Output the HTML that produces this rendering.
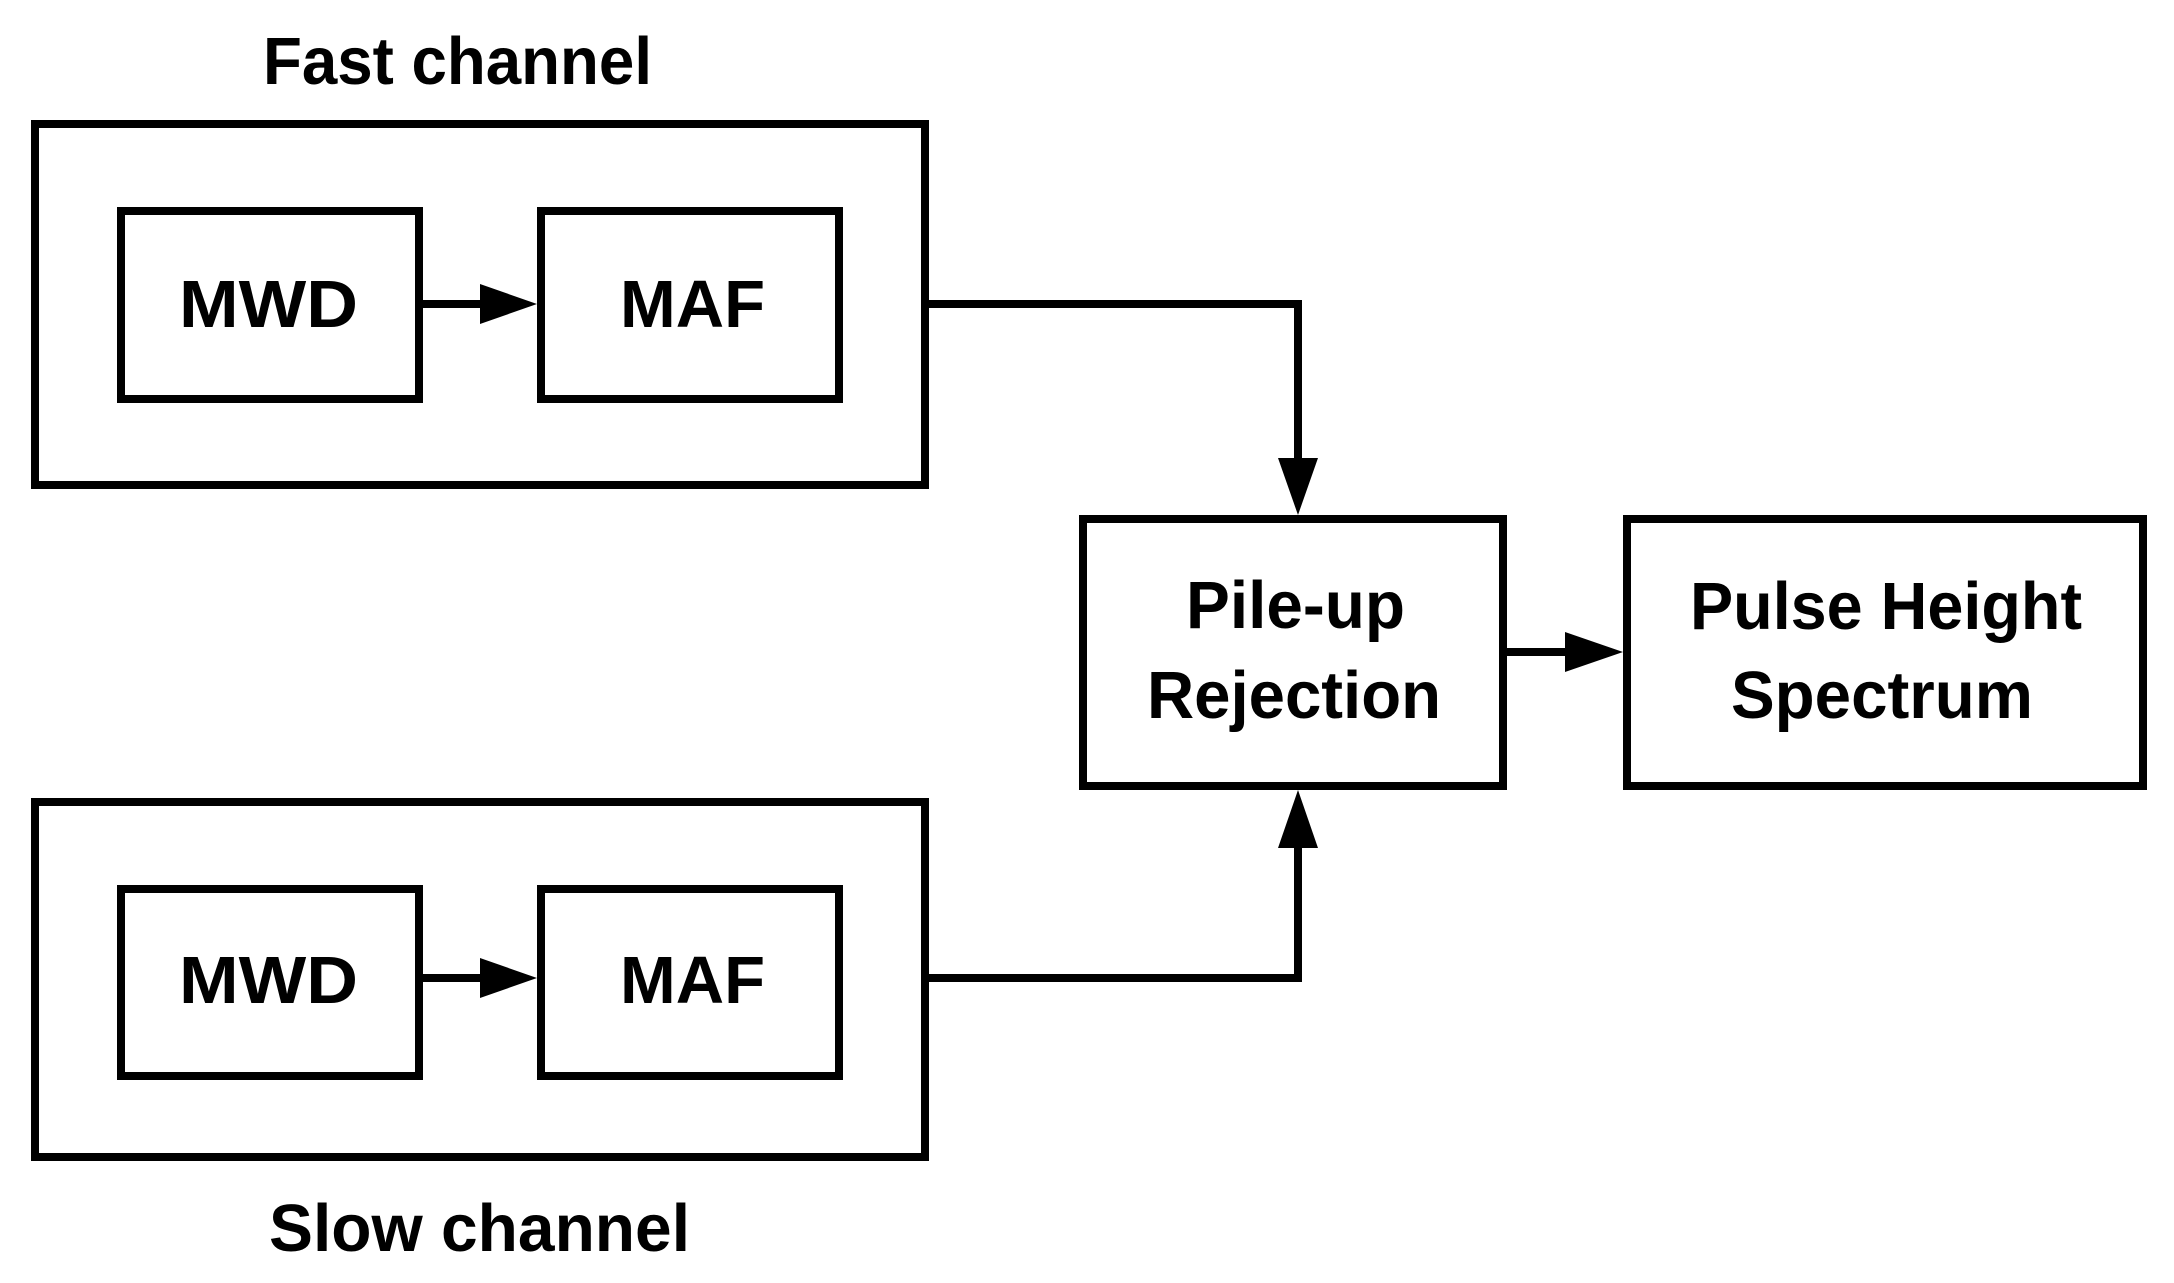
<!DOCTYPE html>
<html><head><style>html,body{margin:0;padding:0;background:#fff}svg{display:block}</style></head>
<body>
<svg width="2174" height="1283" viewBox="0 0 2174 1283" xmlns="http://www.w3.org/2000/svg">
<g fill="none" stroke="#000" stroke-width="8" stroke-linejoin="miter">
<rect x="35" y="124" width="890" height="361"/>
<rect x="121" y="211" width="298" height="188"/>
<rect x="541" y="211" width="298" height="188"/>
<rect x="35" y="802" width="890" height="355"/>
<rect x="121" y="889" width="298" height="187"/>
<rect x="541" y="889" width="298" height="187"/>
<rect x="1083" y="519" width="420" height="267"/>
<rect x="1627" y="519" width="516" height="267"/>
<g stroke-width="8">
<polyline points="925,304 1298,304 1298,462"/>
<polyline points="925,978 1298,978 1298,845"/>
<line x1="419" y1="304" x2="485" y2="304"/>
<line x1="419" y1="978" x2="485" y2="978"/>
<line x1="1503" y1="652" x2="1570" y2="652"/>
</g>
</g>
<g fill="#000">
<polygon points="480,284 537,304 480,324"/>
<polygon points="480,958 537,978 480,998"/>
<polygon points="1565,632 1623,652 1565,672"/>
<polygon points="1278,458 1318,458 1298,515"/>
<polygon points="1278,848 1318,848 1298,790"/>
</g>
<g font-family="Liberation Sans, Arial, sans-serif" font-size="67" fill="#000" font-weight="bold">
<text x="263" y="84" textLength="389" lengthAdjust="spacingAndGlyphs">Fast channel</text>
<text x="269" y="1251" textLength="421" lengthAdjust="spacingAndGlyphs">Slow channel</text>
<text x="179" y="327" textLength="179" lengthAdjust="spacingAndGlyphs">MWD</text>
<text x="620" y="327" textLength="145" lengthAdjust="spacingAndGlyphs">MAF</text>
<text x="179" y="1003" textLength="179" lengthAdjust="spacingAndGlyphs">MWD</text>
<text x="620" y="1003" textLength="145" lengthAdjust="spacingAndGlyphs">MAF</text>
<text x="1186" y="628" textLength="219" lengthAdjust="spacingAndGlyphs">Pile-up</text>
<text x="1147" y="718" textLength="294" lengthAdjust="spacingAndGlyphs">Rejection</text>
<text x="1690" y="629" textLength="392" lengthAdjust="spacingAndGlyphs">Pulse Height</text>
<text x="1731" y="718" textLength="302" lengthAdjust="spacingAndGlyphs">Spectrum</text>
</g>
</svg>
</body></html>
